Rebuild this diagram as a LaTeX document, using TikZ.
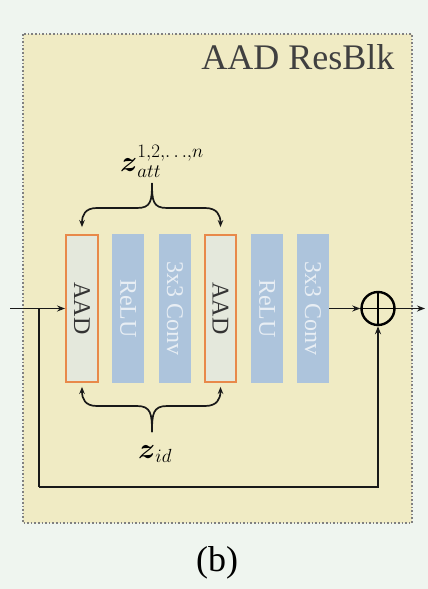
\RequirePackage{fix-cm}
\documentclass[tikz,border=0pt]{standalone}
\usepackage{amsmath, amssymb, graphicx}
\usepackage{fontspec}
\setmainfont{Liberation Serif}
\usetikzlibrary{arrows.meta}

\definecolor{pagebg}{HTML}{EFF5EF}
\definecolor{panelfill}{HTML}{F0EBC4}
\definecolor{aadorange}{HTML}{E8894A}
\definecolor{aadfill}{HTML}{E4E8DC}
\definecolor{layerblue}{HTML}{ADC4DC}
\definecolor{layertext}{HTML}{E8EEF4}

\newcommand{\zscript}[1]{\mbox{\fontsize{19}{19}\selectfont$#1$}}

\tikzset{
  aadbox/.style={draw=aadorange, line width=2.4pt, fill=aadfill, text=black!80,
    minimum width=31.5pt, minimum height=146.5pt, inner sep=0pt, font=\fontsize{24}{24}\selectfont},
  layerbox/.style={fill=layerblue, text=layertext,
    minimum width=32pt, minimum height=149pt, inner sep=0pt, font=\fontsize{24}{24}\selectfont},
  flow/.style={line width=1.8pt, black!90, -{Stealth[length=8pt, width=6pt]}},
  braceline/.style={line width=1.7pt, black!90, -{Stealth[length=7pt, width=5.5pt]}},
  zlabel/.style={anchor=base, font=\fontsize{29}{29}\selectfont},
}

\begin{document}
\begin{tikzpicture}[x=1pt, y=-1pt]
            \fill[pagebg] (0,0) rectangle (428,589);
            \useasboundingbox (0,0) rectangle (428,589);

            \draw[black!50, dotted, line width=1.6pt, fill=panelfill] (23,34) rectangle (412,523);
            \node[anchor=base east, text=black!75, font=\fontsize{36}{36}\selectfont] (title) at (398,69) {AAD ResBlk};

            \node[aadbox] (aad1) at (82,308.5) {\rotatebox{-90}{AAD}};
            \node[layerbox] (relu1) at (128,308.5) {\rotatebox{-90}{ReLU}};
            \node[layerbox] (conv1) at (175,308.5) {\rotatebox{-90}{3x3 Conv}};
            \node[aadbox] (aad2) at (220.5,308.5) {\rotatebox{-90}{AAD}};
            \node[layerbox] (relu2) at (267,308.5) {\rotatebox{-90}{ReLU}};
            \node[layerbox] (conv2) at (313,308.5) {\rotatebox{-90}{3x3 Conv}};

            \node[draw, circle, line width=2.4pt, minimum size=33pt, inner sep=0pt] (sum) at (378,308.5) {};
            \draw[line width=1.8pt] (sum.north) -- (sum.south) (sum.west) -- (sum.east);

            \coordinate (in) at (10,308.5);
            \coordinate (split) at (39,308.5);
            \coordinate (skip) at (39,487);
            \coordinate (out) at (425,308.5);
            \draw[flow] (in) -- (aad1.west);
            \draw[line width=1.8pt, black!90] (split) -- (skip);
            \draw[flow] (skip) -| (sum.south);
            \draw[flow] (conv2.east) -- (sum.west);
            \draw[flow] (sum.east) -- (out);

            % attribute brace above the AAD layers
            \node[zlabel] (zatt) at (162,171) {$\boldsymbol{z}_{\zscript{att}}^{\zscript{1{,}2{,}\mathord{\ldotp\ldotp\ldotp}{,}n}}$};
            \coordinate (atttip) at (152,183);
            \draw[braceline] (atttip) .. controls +(0,18) and +(14,0) .. (137,208) -- (97,208)
                .. controls +(-12,0) and +(0,-12) .. ([yshift=7pt]aad1.north);
            \draw[braceline] (atttip) .. controls +(0,18) and +(-14,0) .. (167,208) -- (205,208)
                .. controls +(12,0) and +(0,-12) .. ([yshift=7pt]aad2.north);

            % identity brace below
            \node[zlabel] (zid) at (155,458) {$\boldsymbol{z}_{\zscript{id}}$};
            \coordinate (idtip) at (152,432);
            \draw[braceline] (idtip) .. controls +(0,-18) and +(14,0) .. (137,406) -- (97,406)
                .. controls +(-12,0) and +(0,12) .. ([yshift=-4pt]aad1.south);
            \draw[braceline] (idtip) .. controls +(0,-18) and +(-14,0) .. (167,406) -- (205,406)
                .. controls +(12,0) and +(0,12) .. ([yshift=-4pt]aad2.south);

            \node[font=\fontsize{36}{36}\selectfont] (caption) at (217,563) {(b)};
\end{tikzpicture}
\end{document}
